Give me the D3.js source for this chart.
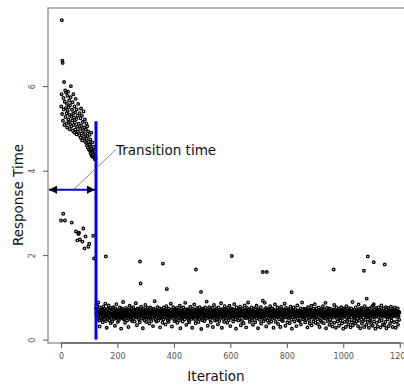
<!DOCTYPE html>
<html>
<head>
<meta charset="utf-8">
<script src="https://cdn.jsdelivr.net/npm/d3@7"></script>
<style>
  body { margin: 0; background: #fff; }
  text { font-family: "DejaVu Sans", sans-serif; }
  .tick-label { fill: #555; font-size: 8px; }
  .label { fill: #111; font-size: 13.5px; }
</style>
</head>
<body>
<div id="container"></div>
<script>

// 1. The data

// response time per iteration, iterations 0..123 (transition phase)
var transitionValues = [
  2.82,5.52,5.81,7.56,5.34,6.60,6.55,5.18,2.98,5.72,5.45,6.10,5.08,5.63,2.82,5.90,5.27,5.48,5.85,5.12,
  5.36,5.58,5.02,5.77,5.41,5.87,5.21,5.50,5.15,5.66,5.32,4.98,5.55,5.10,5.74,6.00,5.28,5.05,2.77,5.44,
  5.19,5.62,4.95,5.35,5.81,5.08,5.26,4.90,5.52,5.14,5.38,4.97,5.70,2.56,5.22,4.86,5.45,5.04,2.35,5.30,
  4.92,5.58,2.50,5.11,2.53,4.84,5.36,2.37,4.99,5.24,4.78,5.47,5.06,4.88,5.30,4.72,2.32,5.15,4.94,2.63,
  5.40,4.80,5.02,2.16,4.70,5.21,4.87,2.44,4.98,4.66,5.12,4.76,4.60,5.05,4.82,4.55,4.93,2.20,4.68,4.50,
  2.27,4.85,4.62,4.47,4.74,4.41,4.58,4.90,4.36,4.52,4.44,4.67,4.33,4.49,2.46,4.38,4.56,1.92,4.30,4.45,
  4.27,4.40,4.34,4.29
];

// response time per iteration, iterations 124..1199 (steady phase)
var steadyValues = [
  0.74,0.62,0.83,0.55,0.68,0.79,0.49,0.64,0.88,0.58,0.71,0.45,0.66,0.31,0.76,0.60,0.53,0.70,0.63,0.47,
  0.59,0.72,0.51,0.67,0.41,0.63,0.78,0.56,0.69,0.48,0.73,0.61,0.54,0.85,0.58,0.44,0.68,0.62,0.28,0.57,
  0.65,0.50,0.73,0.59,0.64,0.81,0.53,0.61,0.46,0.70,0.57,0.75,0.39,0.62,0.52,0.67,0.60,0.43,0.72,0.56,
  0.63,0.77,0.54,0.66,0.49,0.70,0.58,0.33,0.65,0.74,0.52,0.60,0.84,0.51,0.67,0.57,0.62,0.42,0.69,0.55,
  0.61,0.46,0.68,0.59,0.76,0.52,0.66,0.56,0.72,0.26,0.64,0.53,0.74,0.60,0.50,0.67,0.89,0.57,0.63,0.48,
  0.69,0.61,0.55,0.40,0.66,0.58,0.75,0.51,0.68,0.60,0.45,0.65,0.56,0.71,0.62,0.30,0.53,0.70,0.59,0.80,
  0.52,0.65,0.58,0.68,0.47,0.73,0.57,0.62,0.44,0.67,0.54,0.61,0.77,0.50,0.69,0.58,0.64,0.43,0.71,0.60,
  0.56,0.86,0.63,0.53,0.70,0.34,0.61,0.57,0.74,0.52,0.67,0.59,0.48,0.68,0.62,0.41,0.72,0.55,0.65,0.58,
  0.78,0.50,0.66,0.60,0.55,0.69,0.27,0.62,0.53,0.73,0.63,0.46,0.68,0.58,0.64,0.82,0.54,0.67,0.42,0.61,
  0.70,0.52,0.64,0.75,0.57,0.66,0.49,0.69,0.60,0.38,0.65,0.56,0.76,0.53,0.61,0.68,0.44,0.72,0.59,0.63,
  0.55,0.67,0.32,0.61,0.73,0.51,0.66,0.58,0.91,0.56,0.64,0.47,0.70,0.60,0.43,0.68,0.53,0.62,0.77,0.57,
  0.62,0.45,0.69,0.55,0.66,0.59,0.74,0.29,0.63,0.52,0.67,0.60,0.50,0.72,0.56,0.65,0.40,0.68,0.61,0.48,
  0.76,0.57,0.64,0.53,0.70,0.61,0.36,0.67,0.56,0.79,0.60,0.51,0.69,0.62,0.46,0.66,0.58,0.42,0.73,0.54,
  0.65,0.60,0.49,0.68,0.57,0.85,0.62,0.53,0.71,0.31,0.61,0.56,0.67,0.58,0.77,0.51,0.66,0.60,0.44,0.69,
  0.55,0.63,0.71,0.47,0.65,0.59,0.75,0.56,0.40,0.67,0.61,0.52,0.70,0.60,0.45,0.66,0.57,0.80,0.62,0.27,
  0.58,0.68,0.53,0.73,0.61,0.50,0.67,0.43,0.65,0.57,0.76,0.55,0.62,0.70,0.48,0.60,0.87,0.56,0.66,0.61,
  0.35,0.71,0.52,0.65,0.58,0.72,0.54,0.67,0.45,0.61,0.41,0.69,0.57,0.63,0.78,0.53,0.66,0.60,0.49,0.68,
  0.62,0.28,0.56,0.73,0.64,0.52,0.69,0.58,0.83,0.55,0.63,0.47,0.67,0.39,0.60,0.71,0.56,0.65,0.75,0.51,
  0.66,0.60,0.54,0.42,0.68,0.62,0.57,0.77,0.49,0.67,0.58,0.71,0.53,0.25,0.65,0.61,0.72,0.46,0.66,0.56,
  0.73,0.62,0.52,0.68,0.44,0.60,0.56,0.76,0.64,0.58,0.50,0.69,0.90,0.55,0.66,0.61,0.33,0.70,0.53,0.63,
  0.59,0.77,0.56,0.67,0.48,0.62,0.71,0.41,0.60,0.54,0.66,0.75,0.52,0.64,0.30,0.68,0.57,0.61,0.82,0.51,
  0.67,0.58,0.45,0.70,0.62,0.55,0.74,0.47,0.65,0.60,0.68,0.53,0.36,0.61,0.76,0.57,0.66,0.44,0.71,0.59,
  0.63,0.52,0.68,0.86,0.56,0.65,0.28,0.60,0.72,0.54,0.67,0.49,0.62,0.70,0.42,0.58,0.79,0.53,0.65,0.61,
  0.57,0.71,0.50,0.66,0.60,0.40,0.68,0.55,0.75,0.62,0.46,0.67,0.58,0.80,0.52,0.64,0.32,0.61,0.70,0.54,
  0.65,0.58,0.73,0.51,0.67,0.61,0.43,0.71,0.56,0.63,0.84,0.53,0.66,0.60,0.48,0.68,0.26,0.59,0.76,0.57,
  0.62,0.70,0.53,0.65,0.45,0.60,0.72,0.55,0.67,0.50,0.63,0.78,0.57,0.34,0.66,0.58,0.69,0.44,0.61,0.74,
  0.56,0.66,0.60,0.39,0.68,0.53,0.62,0.81,0.58,0.51,0.71,0.61,0.29,0.67,0.57,0.75,0.52,0.64,0.60,0.88,
  0.54,0.63,0.72,0.49,0.66,0.42,0.61,0.70,0.57,0.65,0.53,0.76,0.60,0.46,0.68,0.58,0.35,0.67,0.55,0.62,
  0.74,0.52,0.65,0.61,0.41,0.71,0.55,0.66,0.58,0.80,0.50,0.68,0.62,0.56,0.27,0.72,0.60,0.53,0.67,0.61,
  0.47,0.70,0.57,0.65,0.77,0.38,0.60,0.54,0.68,0.62,0.52,0.92,0.58,0.66,0.44,0.61,0.71,0.56,0.49,0.67,
  0.63,0.58,0.75,0.31,0.53,0.68,0.60,0.65,0.45,0.72,0.57,0.66,0.61,0.40,0.54,0.70,0.62,0.79,0.51,0.60,
  0.67,0.43,0.61,0.56,0.74,0.64,0.52,0.68,0.58,0.28,0.71,0.62,0.50,0.66,0.83,0.57,0.61,0.42,0.69,0.55,
  0.65,0.60,0.53,0.76,0.61,0.37,0.67,0.57,0.72,0.48,0.63,0.58,0.68,0.30,0.64,0.54,0.78,0.61,0.46,0.70,
  0.59,0.66,0.44,0.62,0.56,0.71,0.52,0.67,0.85,0.60,0.64,0.33,0.57,0.75,0.61,0.53,0.68,0.62,0.41,0.58,
  0.72,0.51,0.66,0.61,0.69,0.55,0.39,0.64,0.60,0.78,0.56,0.67,0.47,0.62,0.26,0.71,0.58,0.53,0.68,0.61,
  0.76,0.57,0.64,0.43,0.60,0.67,0.52,0.72,0.62,0.56,0.32,0.66,0.61,0.81,0.50,0.68,0.58,0.45,0.64,0.54,
  0.69,0.61,0.44,0.67,0.58,0.74,0.36,0.63,0.56,0.66,0.88,0.53,0.71,0.60,0.48,0.64,0.57,0.73,0.52,0.62,
  0.67,0.41,0.63,0.55,0.72,0.60,0.49,0.68,0.64,0.29,0.58,0.77,0.56,0.66,0.61,0.46,0.70,0.38,0.60,0.53,
  0.71,0.62,0.57,0.80,0.34,0.64,0.60,0.52,0.68,0.61,0.43,0.73,0.55,0.66,0.58,0.84,0.51,0.67,0.40,0.63,
  0.56,0.74,0.61,0.66,0.48,0.68,0.37,0.59,0.64,0.76,0.53,0.62,0.30,0.70,0.57,0.67,0.45,0.63,0.72,0.42,
  0.60,0.55,0.68,0.64,0.79,0.52,0.62,0.39,0.71,0.58,0.66,0.50,0.63,0.87,0.56,0.27,0.67,0.60,0.75,0.53,
  0.64,0.44,0.59,0.70,0.55,0.63,0.74,0.35,0.66,0.57,0.47,0.68,0.61,0.41,0.72,0.56,0.65,0.60,0.31,0.67,
  0.52,0.71,0.63,0.58,0.82,0.40,0.61,0.55,0.67,0.64,0.28,0.57,0.76,0.60,0.49,0.69,0.43,0.62,0.66,0.56,
  0.72,0.33,0.64,0.60,0.53,0.68,0.45,0.61,0.77,0.57,0.66,0.38,0.59,0.70,0.51,0.63,0.26,0.74,0.55,0.67,
  0.61,0.42,0.71,0.56,0.65,0.30,0.60,0.79,0.52,0.68,0.44,0.63,0.58,0.75,0.36,0.66,0.54,0.47,0.70,0.62,
  0.57,0.67,0.29,0.63,0.74,0.53,0.41,0.65,0.59,0.89,0.34,0.68,0.56,0.61,0.46,0.71,0.52,0.66,0.39,0.60,
  0.76,0.55,0.64,0.43,0.59,0.70,0.50,0.67,0.32,0.62,0.83,0.57,0.45,0.66,0.60,0.73,0.27,0.53,0.68,0.63,
  0.56,0.75,0.38,0.64,0.59,0.67,0.44,0.61,0.52,0.71,0.30,0.63,0.79,0.57,0.47,0.68,0.60,0.54,0.35,0.66,
  0.62,0.73,0.53,0.42,0.69,0.58,0.65,0.28,0.74,0.56,0.63,0.45,0.67,0.49,0.60,0.37,0.77,0.57,0.66,0.61,
  0.33,0.68,0.54,0.63,0.84,0.43,0.59,0.71,0.52,0.65,0.26,0.61,0.75,0.56,0.40,0.67,0.60,0.70,0.31,0.63,
  0.59,0.76,0.53,0.66,0.44,0.62,0.72,0.56,0.29,0.67,0.60,0.81,0.46,0.64,0.57,0.69,0.36,0.63,0.54,0.74,
  0.61,0.34,0.68,0.58,0.66,0.42,0.55,0.77,0.63,0.27,0.71,0.53,0.64,0.48,0.60,0.75,0.57,0.32,0.67,0.62,
  0.69,0.54,0.39,0.64,0.60,0.78,0.52,0.45,0.68,0.58,0.63,0.30,0.72,0.56,0.66,0.61,0.41,0.67,0.57,0.76,
  0.60,0.65,0.28,0.69,0.54,0.63,0.43,0.58,0.67,0.74,0.35,0.61,0.56,0.66,0.47,0.64
];

// the slow iterations sticking out above the steady band
var outlierIters  = [159, 280, 282, 361, 375, 478, 496, 605, 715, 722, 729, 817, 966, 1073, 1083, 1087, 1105, 1108, 1147];
var outlierValues = [1.97, 1.85, 1.33, 1.80, 1.20, 1.66, 1.13, 1.98, 1.60, 0.87, 1.60, 1.12, 1.66, 1.63, 0.97, 1.97, 0.80, 1.83, 1.78];

var xTicks = [0, 200, 400, 600, 800, 1000, 1200];
var yTicks = [0, 2, 4, 6];

// the annotation: where the transition ends and the level it is measured at
var transitionIter = 124;
var transitionTop = 5.17;
var arrowLevel = 3.55;
var annotationText = "Transition time";

makeChart();

function makeChart () {

    // 2. Append the svg

    var width = 404;
    var height = 386;
    var margin = {left: 48, top: 8, bottom: 43, right: -9};

    const svg = d3.select("#container")
                  .append("svg")
                  .attr("width", width)
                  .attr("height", height);

    // 3. Scales (R style: data range padded by 4%)

    var xScale = d3.scaleLinear()
                   .domain([-46, 1247])
                   .range([margin.left, width - margin.right]);

    var yScale = d3.scaleLinear()
                   .domain([-0.08, 7.85])
                   .range([height - margin.bottom, margin.top]);

    var points = [];
    transitionValues.forEach((v, i) => points.push({iter: i, value: v}));
    steadyValues.forEach((v, i) => points.push({iter: i + transitionValues.length, value: v}));
    outlierIters.forEach((it, i) => points.push({iter: it, value: outlierValues[i]}));

    // 4. Frame and axes

    var bottom = height - margin.bottom;

    svg.append("rect")
       .attr("x", margin.left)
       .attr("y", margin.top)
       .attr("width", width - margin.right - margin.left)
       .attr("height", bottom - margin.top)
       .attr("fill", "none")
       .attr("stroke", "#999")
       .attr("stroke-width", 1.5);

    var xAxis = d3.axisBottom(xScale)
                  .tickValues(xTicks)
                  .tickSize(5)
                  .tickPadding(5)
                  .tickFormat(d3.format("d"));

    var gx = svg.append("g")
       .attr("id", "x-axis")
       .attr("transform", "translate(0," + bottom + ")")
       .call(xAxis);
    gx.select(".domain")
      .attr("d", "M" + xScale(xTicks[0]) + ",0H" + xScale(xTicks[xTicks.length - 1]))
      .attr("stroke", "#333");
    gx.selectAll(".tick line").attr("stroke", "#555");
    gx.selectAll(".tick text").attr("class", "tick-label").attr("font-family", null).attr("font-size", null);

    var yAxis = d3.axisLeft(yScale)
                  .tickValues(yTicks)
                  .tickSize(5)
                  .tickFormat(d3.format("d"));

    var gy = svg.append("g")
       .attr("id", "y-axis")
       .attr("transform", "translate(" + margin.left + ",0)")
       .call(yAxis);
    gy.select(".domain").remove();
    gy.selectAll(".tick line").attr("stroke", "#555");
    gy.selectAll(".tick text")
      .attr("class", "tick-label")
      .attr("font-family", null).attr("font-size", null)
      .attr("x", null).attr("dy", null)
      .attr("text-anchor", "middle")
      .attr("transform", "translate(-13,0) rotate(-90)");

    // 5. The points (small open circles, drawn heavy so they read as dark dots)

    svg.append("g")
       .selectAll("circle")
       .data(points)
       .enter()
       .append("circle")
       .attr("cx", (d) => xScale(d.iter))
       .attr("cy", (d) => yScale(d.value))
       .attr("r", 1.3)
       .attr("fill", "none")
       .attr("stroke", "#000")
       .attr("stroke-width", 1.3);

    // 6. Annotation: blue line, double arrow, pointer line and text

    svg.append("defs").selectAll("marker")
       .data(["start", "end"])
       .enter()
       .append("marker")
       .attr("id", (d) => "head-" + d)
       .attr("viewBox", "0 0 10 10")
       .attr("refX", (d) => d == "end" ? 10 : 0)
       .attr("refY", 5)
       .attr("markerWidth", 5)
       .attr("markerHeight", 4)
       .attr("markerUnits", "strokeWidth")
       .attr("orient", "auto")
       .append("path")
       .attr("d", (d) => d == "end" ? "M0,0L10,5L0,10z" : "M10,0L0,5L10,10z")
       .attr("fill", "#000");

    svg.append("line")
       .attr("x1", xScale(-46) + 1)
       .attr("x2", xScale(transitionIter) - 1)
       .attr("y1", yScale(arrowLevel))
       .attr("y2", yScale(arrowLevel))
       .attr("stroke", "#0000ee")
       .attr("stroke-width", 2)
       .attr("marker-start", "url(#head-start)")
       .attr("marker-end", "url(#head-end)");

    svg.append("line")
       .attr("x1", xScale(transitionIter))
       .attr("x2", xScale(transitionIter))
       .attr("y1", yScale(0))
       .attr("y2", yScale(transitionTop))
       .attr("stroke", "#0000ee")
       .attr("stroke-width", 3);

    svg.append("line")
       .attr("x1", xScale(40))
       .attr("y1", yScale(arrowLevel) + 1)
       .attr("x2", xScale(195))
       .attr("y2", yScale(4.5))
       .attr("stroke", "#555")
       .attr("stroke-width", 0.7);

    svg.append("text")
       .attr("class", "label")
       .attr("x", xScale(195))
       .attr("y", yScale(4.5) + 5)
       .text(annotationText);

    // 7. Axis titles

    svg.append("text")
       .attr("class", "label")
       .attr("x", 216)
       .attr("y", height - 5)
       .attr("text-anchor", "middle")
       .text("Iteration");

    svg.append("text")
       .attr("class", "label")
       .attr("transform", "translate(23," + 195 + ") rotate(-90)")
       .attr("text-anchor", "middle")
       .text("Response Time");
}

</script>
</body>
</html>
